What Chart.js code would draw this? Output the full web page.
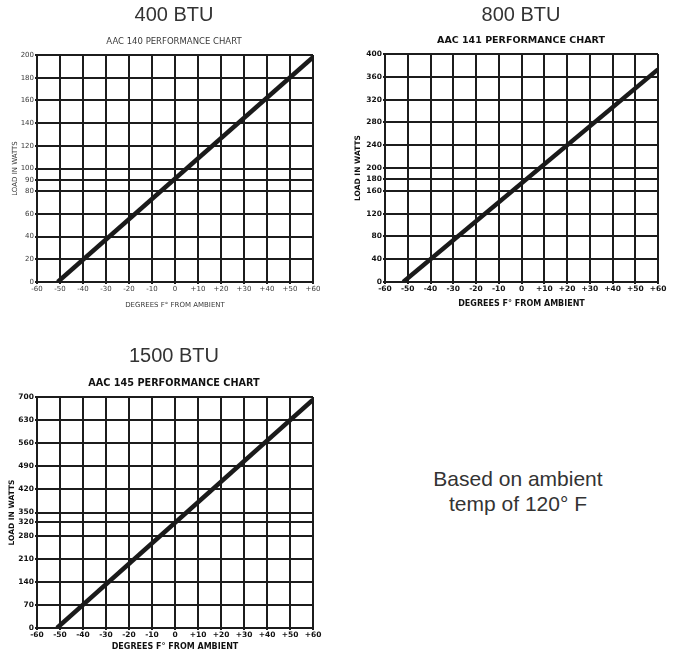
<!DOCTYPE html>
<html><head><meta charset="utf-8">
<script src="https://cdn.jsdelivr.net/npm/chart.js@4"></script>
<style>
html,body{margin:0;padding:0;background:#fff;overflow:hidden;width:675px;height:656px;position:relative;}
canvas{position:absolute;}
#note{position:absolute;left:398px;width:240px;top:466px;text-align:center;font:21px/25px "Liberation Sans",Arial,sans-serif;color:#333;}
</style></head><body>
<canvas id="c140" width="348" height="320" style="left:0;top:0"></canvas>
<canvas id="c141" width="362" height="320" style="left:340px;top:0"></canvas>
<canvas id="c145" width="348" height="321" style="left:0;top:335px"></canvas>
<div id="note">Based on ambient<br>temp of 120° F</div>
<script>
// ---- data ----
const xTicks = [-60, -50, -40, -30, -20, -10, 0, 10, 20, 30, 40, 50, 60];
const xTickLabels = ['-60', '-50', '-40', '-30', '-20', '-10', '0', '+10', '+20', '+30', '+40', '+50', '+60'];

const chartTitles = ['400 BTU', '800 BTU', '1500 BTU'];
const chartSubtitles = ['AAC 140 PERFORMANCE CHART', 'AAC 141 PERFORMANCE CHART', 'AAC 145 PERFORMANCE CHART'];
const xAxisTitle = 'DEGREES F° FROM AMBIENT';
const yAxisTitle = 'LOAD IN WATTS';

const yTicks140 = [0, 20, 40, 60, 80, 90, 100, 120, 140, 160, 180, 200];
const yTicks141 = [0, 40, 80, 120, 160, 180, 200, 240, 280, 320, 360, 400];
const yTicks145 = [0, 70, 140, 210, 280, 320, 350, 420, 490, 560, 630, 700];

const degrees140 = [-51, 60];
const load140 = [0, 198];
const degrees141 = [-52, 60];
const load141 = [0, 373];
const degrees145 = [-51.3, 60];
const load145 = [0, 692];

// ---- builder ----
function build(id, o) {
  const gc = '#1c1c1c';
  const tickFont = {family: 'DejaVu Sans', size: o.tickSize, weight: o.weight};
  return new Chart(document.getElementById(id), {
    type: 'line',
    data: {datasets: [{
      data: o.xs.map((x, i) => ({x: x, y: o.ys[i]})),
      borderColor: '#1a1a1a', borderWidth: 4.5, pointRadius: 0, tension: 0,
      borderCapStyle: 'butt', fill: false, yAxisID: 'y'
    }]},
    options: {
      responsive: false, animation: false, devicePixelRatio: 1,
      layout: {padding: 0},
      plugins: {
        legend: {display: false}, tooltip: {enabled: false},
        title: {display: true, text: o.title, color: '#333',
          font: {family: 'Liberation Sans', size: 20, weight: 'normal', lineHeight: 1.2},
          padding: {top: o.tPadTop, bottom: o.tPadBottom}},
        subtitle: {display: true, text: o.subtitle, color: o.textColor,
          font: {family: 'DejaVu Sans', size: o.subSize, weight: o.weight, lineHeight: 1.2},
          padding: {top: 0, bottom: o.sPadBottom}}
      },
      scales: {
        x: {
          type: 'linear', min: xTicks[0], max: xTicks[xTicks.length - 1],
          afterBuildTicks: s => { s.ticks = xTicks.map(v => ({value: v})); },
          afterFit: s => { s.height = o.xAxisH; },
          grid: {color: gc, lineWidth: 2, tickLength: 2},
          border: {color: gc, width: 2},
          ticks: {autoSkip: false, maxRotation: 0, minRotation: 0, padding: 1, color: o.textColor,
            font: tickFont, callback: (v, i) => xTickLabels[i]},
          title: {display: true, text: xAxisTitle, color: o.textColor,
            font: {family: 'DejaVu Sans', size: o.xTitleSize, weight: o.weight, lineHeight: 1.2},
            padding: {top: 0, bottom: o.xTitlePad}}
        },
        y: {
          type: 'linear', position: 'left', min: o.yTicks[0], max: o.yTicks[o.yTicks.length - 1],
          afterBuildTicks: s => { s.ticks = o.yTicks.map(v => ({value: v})); },
          afterFit: s => { s.width = o.yAxisW; },
          grid: {color: gc, lineWidth: 2, tickLength: 2},
          border: {color: gc, width: 2},
          ticks: {autoSkip: false, padding: 1, color: o.textColor, font: tickFont},
          title: {display: true, text: yAxisTitle, color: o.textColor,
            font: {family: 'DejaVu Sans', size: o.yTitleSize, weight: o.weight, lineHeight: 1.2},
            padding: {top: o.yTitlePad, bottom: 0}}
        },
        yRight: {
          type: 'linear', position: 'right', min: 0, max: 1,
          afterFit: s => { s.width = o.rightW; },
          grid: {display: false}, border: {display: false}, ticks: {display: false}
        }
      }
    }
  });
}

build('c140', {
  title: chartTitles[0], subtitle: chartSubtitles[0], xs: degrees140, ys: load140, yTicks: yTicks140,
  weight: 'normal', textColor: '#3a3a3a', tickSize: 7, subSize: 8.5, xTitleSize: 7, yTitleSize: 7,
  rightW: 35, yAxisW: 37, xAxisH: 38, tPadTop: 3.5, tPadBottom: 8.8, sPadBottom: 8.5,
  yTitlePad: 10.8, xTitlePad: 10.8
});
build('c141', {
  title: chartTitles[1], subtitle: chartSubtitles[1], xs: degrees141, ys: load141, yTicks: yTicks141,
  weight: 'bold', textColor: '#111', tickSize: 7.5, subSize: 9.5, xTitleSize: 8, yTitleSize: 7.5,
  rightW: 44, yAxisW: 45, xAxisH: 38, tPadTop: 3, tPadBottom: 8.3, sPadBottom: 7.3,
  yTitlePad: 13.5, xTitlePad: 11.2
});
build('c145', {
  title: chartTitles[2], subtitle: chartSubtitles[2], xs: degrees145, ys: load145, yTicks: yTicks145,
  weight: 'bold', textColor: '#111', tickSize: 7.5, subSize: 9.7, xTitleSize: 8, yTitleSize: 7.5,
  rightW: 35, yAxisW: 37, xAxisH: 28, tPadTop: 9.5, tPadBottom: 9.2, sPadBottom: 7.7,
  yTitlePad: 7.5, xTitlePad: 3.8
});
</script>
</body></html>
